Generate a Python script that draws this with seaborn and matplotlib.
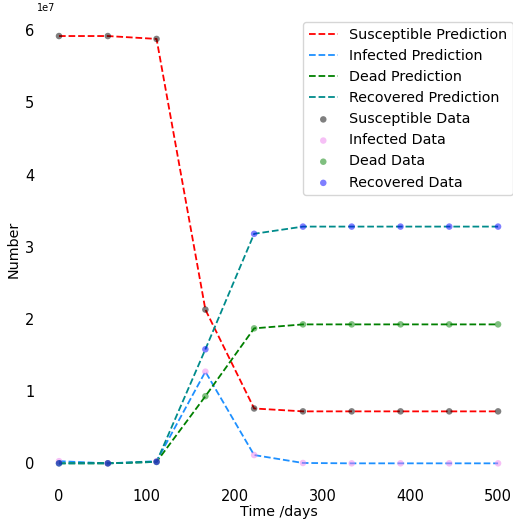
import numpy as np
import pandas as pd
import matplotlib
matplotlib.use("Agg")
import matplotlib.pyplot as plt
import seaborn as sns

days = [0, 55.6, 111.1, 166.7, 222.2, 277.8, 333.3, 388.9, 444.4, 500]
susceptible = [5.92e7, 5.92e7, 5.88e7, 2.13e7, 0.76e7, 0.72e7, 0.72e7, 0.72e7, 0.72e7, 0.72e7]
infected = [0.03e7, 0.0, 0.03e7, 1.27e7, 0.115e7, 0.005e7, 0.0, 0.0, 0.0, 0.0]
dead = [0.0, 0.0, 0.02e7, 0.93e7, 1.87e7, 1.925e7, 1.925e7, 1.925e7, 1.925e7, 1.925e7]
recovered = [0.0, 0.0, 0.02e7, 1.58e7, 3.18e7, 3.28e7, 3.28e7, 3.28e7, 3.28e7, 3.28e7]

groups = ["Susceptible", "Infected", "Dead", "Recovered"]
series = [susceptible, infected, dead, recovered]
line_colors = ["red", "dodgerblue", "green", "darkcyan"]
dot_colors = ["black", "violet", "green", "blue"]

sns.set_style("white")
plt.rcParams["font.family"] = ["DejaVu Sans"]
for key in ["text.color", "axes.labelcolor", "xtick.color", "ytick.color"]:
    plt.rcParams[key] = "black"

fig = plt.figure(figsize=(5.13, 5.24), dpi=100)
ax = fig.add_axes([0.0722, 0.075, 1.0137 - 0.0722, 0.972 - 0.075])

for name, vals, lc in zip(groups, series, line_colors):
    df = pd.DataFrame({"t": days, "n": vals})
    sns.lineplot(data=df, x="t", y="n", ax=ax, color=lc, linestyle="--",
                 linewidth=1.3, label=f"{name} Prediction", zorder=2)

for name, vals, dc in zip(groups, series, dot_colors):
    df = pd.DataFrame({"t": days, "n": vals})
    sns.scatterplot(data=df, x="t", y="n", ax=ax, color=dc, alpha=0.5,
                    s=22, edgecolor="none", label=f"{name} Data", zorder=3)

ax.set_xlabel("Time /days", fontsize=10.3, labelpad=0.5)
ax.set_ylabel("Number", fontsize=10.3, labelpad=3)
ax.tick_params(axis="x", labelsize=10.5, length=0, pad=3)
ax.tick_params(axis="y", labelsize=10.5, length=0, pad=2)
ax.set_yticks([0, 1e7, 2e7, 3e7, 4e7, 5e7, 6e7])
ax.yaxis.get_offset_text().set_fontsize(7)
for s in ax.spines.values():
    s.set_visible(False)
ax.legend(loc="upper right", fontsize=10.3, frameon=True, handlelength=2.0)

fig.savefig("out.png", dpi=100)
